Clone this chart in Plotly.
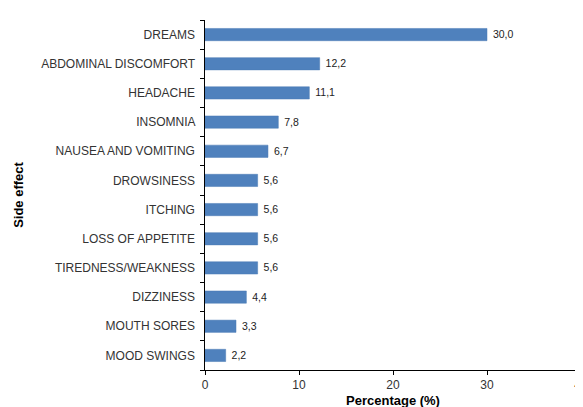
import plotly.graph_objects as go

categories = ["DREAMS", "ABDOMINAL DISCOMFORT", "HEADACHE", "INSOMNIA",
              "NAUSEA AND VOMITING", "DROWSINESS", "ITCHING", "LOSS OF APPETITE",
              "TIREDNESS/WEAKNESS", "DIZZINESS", "MOUTH SORES", "MOOD SWINGS"]
values = [30.0, 12.2, 11.1, 7.8, 6.7, 5.6, 5.6, 5.6, 5.6, 4.4, 3.3, 2.2]
x_ticks = [0, 10, 20, 30, 40]

labels = [" " + f"{v:.1f}".replace(".", ",") for v in values]

fig = go.Figure(go.Bar(
    x=values, y=categories, orientation="h",
    marker=dict(color="#4F81BD", line=dict(color="#4A7AB5", width=0.5)),
    text=labels, textposition="outside", cliponaxis=False,
    textfont=dict(family="Liberation Sans, Arial", size=12, color="#222222"),
))

fig.update_layout(
    width=583, height=407,
    margin=dict(l=197, r=10, t=12, b=45, autoexpand=False),
    plot_bgcolor="white", paper_bgcolor="white",
    bargap=0.58,
    showlegend=False,
    font=dict(family="Liberation Sans, Arial", size=12, color="#333333"),
)
fig.update_xaxes(
    range=[0, 40], tickvals=x_ticks, ticktext=[str(t) for t in x_ticks],
    automargin=False,
    showgrid=False, zeroline=False,
    showline=True, linecolor="black", linewidth=1,
    ticks="outside", ticklen=4, tickcolor="black",
    ticklabeloverflow="allow",
    tickfont=dict(size=12, color="#333333"),
    title=dict(text="<b>Percentage (%)</b>", font=dict(size=13, color="black"), standoff=4),
)
fig.update_yaxes(
    categoryorder="array", categoryarray=categories[::-1],
    automargin=False,
    showgrid=False, zeroline=False,
    showline=True, linecolor="black", linewidth=1,
    ticks="outside", ticklen=4, tickcolor="black", tickson="boundaries",
    ticksuffix="  ",
    tickfont=dict(size=12, color="#333333"),
    title=dict(text="<b>Side effect</b>", font=dict(size=13, color="black"), standoff=14),
)

fig.write_html("out.html")
